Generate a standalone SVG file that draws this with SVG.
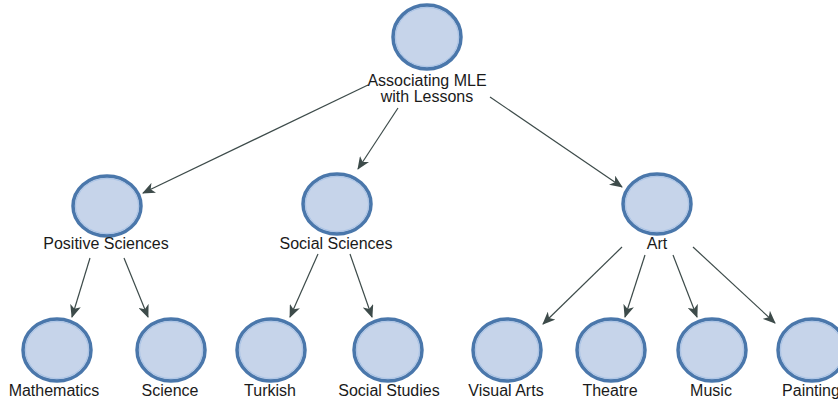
<svg xmlns="http://www.w3.org/2000/svg" width="838" height="401" viewBox="0 0 838 401">
<style>
.n{fill:#c6d4ea;stroke:#4a77ab;stroke-width:3.5}
.r{fill:none;stroke:#a9c3e6;stroke-width:1}
.t{font-family:"Liberation Sans",Arial,sans-serif;font-size:16px;fill:#1a1a1a;text-anchor:middle}
.c{stroke:#3d4b4a;stroke-width:1.2;fill:none;marker-end:url(#a)}
</style>
<defs>
<marker id="a" viewBox="0 0 13 11" refX="12" refY="5.5" markerWidth="13" markerHeight="11" markerUnits="userSpaceOnUse" orient="auto">
<path d="M0,0 L13,5.5 L0,11 L3.5,5.5 Z" fill="#3d4b4a"/>
</marker>
</defs>
<rect width="838" height="401" fill="#fff"/>
<g id="connectors">
<line class="c" x1="368" y1="85" x2="143" y2="193"/>
<line class="c" x1="398" y1="108" x2="358" y2="169"/>
<line class="c" x1="490" y1="97" x2="622" y2="187"/>
<line class="c" x1="90" y1="258" x2="72" y2="317"/>
<line class="c" x1="124" y1="258" x2="148" y2="317"/>
<line class="c" x1="318" y1="254" x2="290" y2="317"/>
<line class="c" x1="350" y1="254" x2="372" y2="317"/>
<line class="c" x1="622" y1="247" x2="543" y2="324"/>
<line class="c" x1="645" y1="255" x2="625" y2="317"/>
<line class="c" x1="673" y1="255" x2="697" y2="317"/>
<line class="c" x1="693" y1="247" x2="775" y2="323"/>
</g>
<g id="root"><ellipse class="n" cx="427" cy="37" rx="34" ry="32"/><ellipse class="r" cx="427" cy="37" rx="31.5" ry="29.5"/><text class="t" x="427" y="86">Associating MLE</text><text class="t" x="427" y="102">with Lessons</text></g>
<g id="positive"><ellipse class="n" cx="107" cy="206" rx="34" ry="30"/><ellipse class="r" cx="107" cy="206" rx="31.5" ry="27.5"/><text class="t" x="106" y="249">Positive Sciences</text></g>
<g id="social"><ellipse class="n" cx="337" cy="204" rx="34" ry="30"/><ellipse class="r" cx="337" cy="204" rx="31.5" ry="27.5"/><text class="t" x="336" y="249">Social Sciences</text></g>
<g id="art"><ellipse class="n" cx="657" cy="204" rx="34" ry="30"/><ellipse class="r" cx="657" cy="204" rx="31.5" ry="27.5"/><text class="t" x="657" y="249">Art</text></g>
<g id="math"><ellipse class="n" cx="57" cy="350" rx="34" ry="31"/><ellipse class="r" cx="57" cy="350" rx="31.5" ry="28.5"/><text class="t" x="54" y="396">Mathematics</text></g>
<g id="science"><ellipse class="n" cx="171" cy="350" rx="34" ry="31"/><ellipse class="r" cx="171" cy="350" rx="31.5" ry="28.5"/><text class="t" x="170" y="396">Science</text></g>
<g id="turkish"><ellipse class="n" cx="271" cy="350" rx="34" ry="31"/><ellipse class="r" cx="271" cy="350" rx="31.5" ry="28.5"/><text class="t" x="270" y="396">Turkish</text></g>
<g id="socialstudies"><ellipse class="n" cx="388" cy="350" rx="34" ry="31"/><ellipse class="r" cx="388" cy="350" rx="31.5" ry="28.5"/><text class="t" x="389" y="396">Social Studies</text></g>
<g id="visualarts"><ellipse class="n" cx="507" cy="350" rx="34" ry="31"/><ellipse class="r" cx="507" cy="350" rx="31.5" ry="28.5"/><text class="t" x="506" y="396">Visual Arts</text></g>
<g id="theatre"><ellipse class="n" cx="611" cy="350" rx="34" ry="31"/><ellipse class="r" cx="611" cy="350" rx="31.5" ry="28.5"/><text class="t" x="610" y="396">Theatre</text></g>
<g id="music"><ellipse class="n" cx="712" cy="350" rx="34" ry="31"/><ellipse class="r" cx="712" cy="350" rx="31.5" ry="28.5"/><text class="t" x="711" y="396">Music</text></g>
<g id="painting"><ellipse class="n" cx="812" cy="350" rx="34" ry="31"/><ellipse class="r" cx="812" cy="350" rx="31.5" ry="28.5"/><text class="t" x="811" y="396">Painting</text></g>
</svg>
